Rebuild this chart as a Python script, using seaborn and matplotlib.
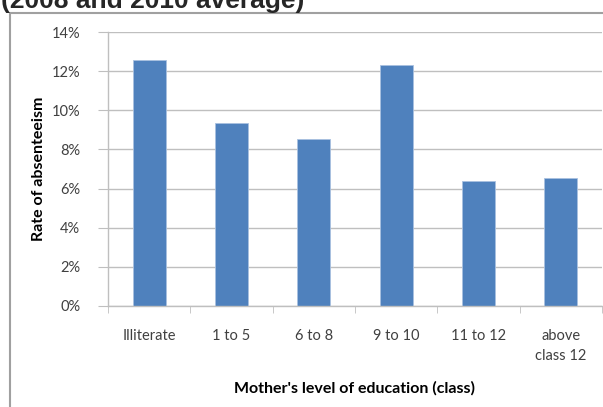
"""Rate of absenteeism by mother's level of education (2008 and 2010 average)."""
import matplotlib
matplotlib.use('Agg')
import matplotlib.pyplot as plt  # noqa: E402
import pandas as pd  # noqa: E402
import seaborn as sns  # noqa: E402
from matplotlib.patches import Rectangle  # noqa: E402
from matplotlib.ticker import FixedLocator, PercentFormatter  # noqa: E402

CATEGORIES = ['Illiterate', '1 to 5', '6 to 8', '9 to 10', '11 to 12', 'above\nclass 12']
ABSENTEEISM = [0.1258, 0.0935, 0.0852, 0.1231, 0.0638, 0.0654]
Y_TICKS = [0.0, 0.02, 0.04, 0.06, 0.08, 0.10, 0.12, 0.14]

TITLE = '(2008 and 2010 average)'
XLABEL = "Mother's level of education (class)"
YLABEL = 'Rate of absenteeism'

BAR = '#4F81BD'
GRID = '#BFBFBF'
TEXT = '#404040'

df = pd.DataFrame({'education': CATEGORIES, 'rate': ABSENTEEISM})

sns.set_style('white')
plt.rcParams['font.family'] = ['Lato', 'DejaVu Sans']

fig = plt.figure(figsize=(6.03, 4.07), dpi=100)
ax = fig.add_axes([108 / 603, 1 - 305.7 / 407, 494 / 603, 273.4 / 407])

sns.barplot(data=df, x='education', y='rate', color=BAR, width=0.4,
            edgecolor='#A9C1E0', linewidth=0.6, saturation=1, ax=ax)

ax.set_ylim(0, 0.14)
ax.set_xlim(-0.5, len(CATEGORIES) - 0.5)
ax.set_yticks(Y_TICKS)
ax.yaxis.set_major_formatter(PercentFormatter(1.0, decimals=0))
ax.yaxis.grid(True, color=GRID, lw=1.0)
ax.set_axisbelow(True)

# category ticks sit between the bars, like the spreadsheet original
ax.xaxis.set_minor_locator(FixedLocator([i - 0.5 for i in range(len(CATEGORIES) + 1)]))
ax.tick_params(axis='x', which='major', length=0, pad=17, labelsize=10.5, labelcolor=TEXT)
ax.tick_params(axis='x', which='minor', length=5, color=GRID, direction='out', bottom=True)
ax.tick_params(axis='y', length=7, color=GRID, direction='out', left=True,
               labelsize=10.5, labelcolor=TEXT, pad=13)
for lab in ax.get_xticklabels():
    lab.set_verticalalignment('top')
    lab.set_linespacing(1.55)

for side in ('top', 'right'):
    ax.spines[side].set_visible(False)
for side in ('left', 'bottom'):
    ax.spines[side].set_color(GRID)
    ax.spines[side].set_linewidth(1.0)

ax.set_xlabel(XLABEL, fontsize=11.5, color='black', fontweight='bold')
ax.xaxis.set_label_coords(0.5, -(388 - 305.7) / 273.4)
ax.xaxis.label.set_verticalalignment('center')
ax.set_ylabel(YLABEL, fontsize=11.5, color='black', fontweight='bold')
ax.yaxis.set_label_coords(-(108 - 39) / 494, 0.5)
ax.yaxis.label.set_verticalalignment('center')

# chart frame, cut off by the crop at right and bottom
fig.patches.append(Rectangle((10 / 603, -0.1), 1.2, 1 - 13 / 407 + 0.1, transform=fig.transFigure,
                             fill=False, edgecolor='#A0A0A0', lw=1.5, zorder=0))

fig.text(1 / 603, 1 - 8 / 407, TITLE, fontsize=19, fontweight='bold',
         family=['Liberation Sans', 'DejaVu Sans'], va='baseline', ha='left')

fig.savefig('out.png', dpi=100)
